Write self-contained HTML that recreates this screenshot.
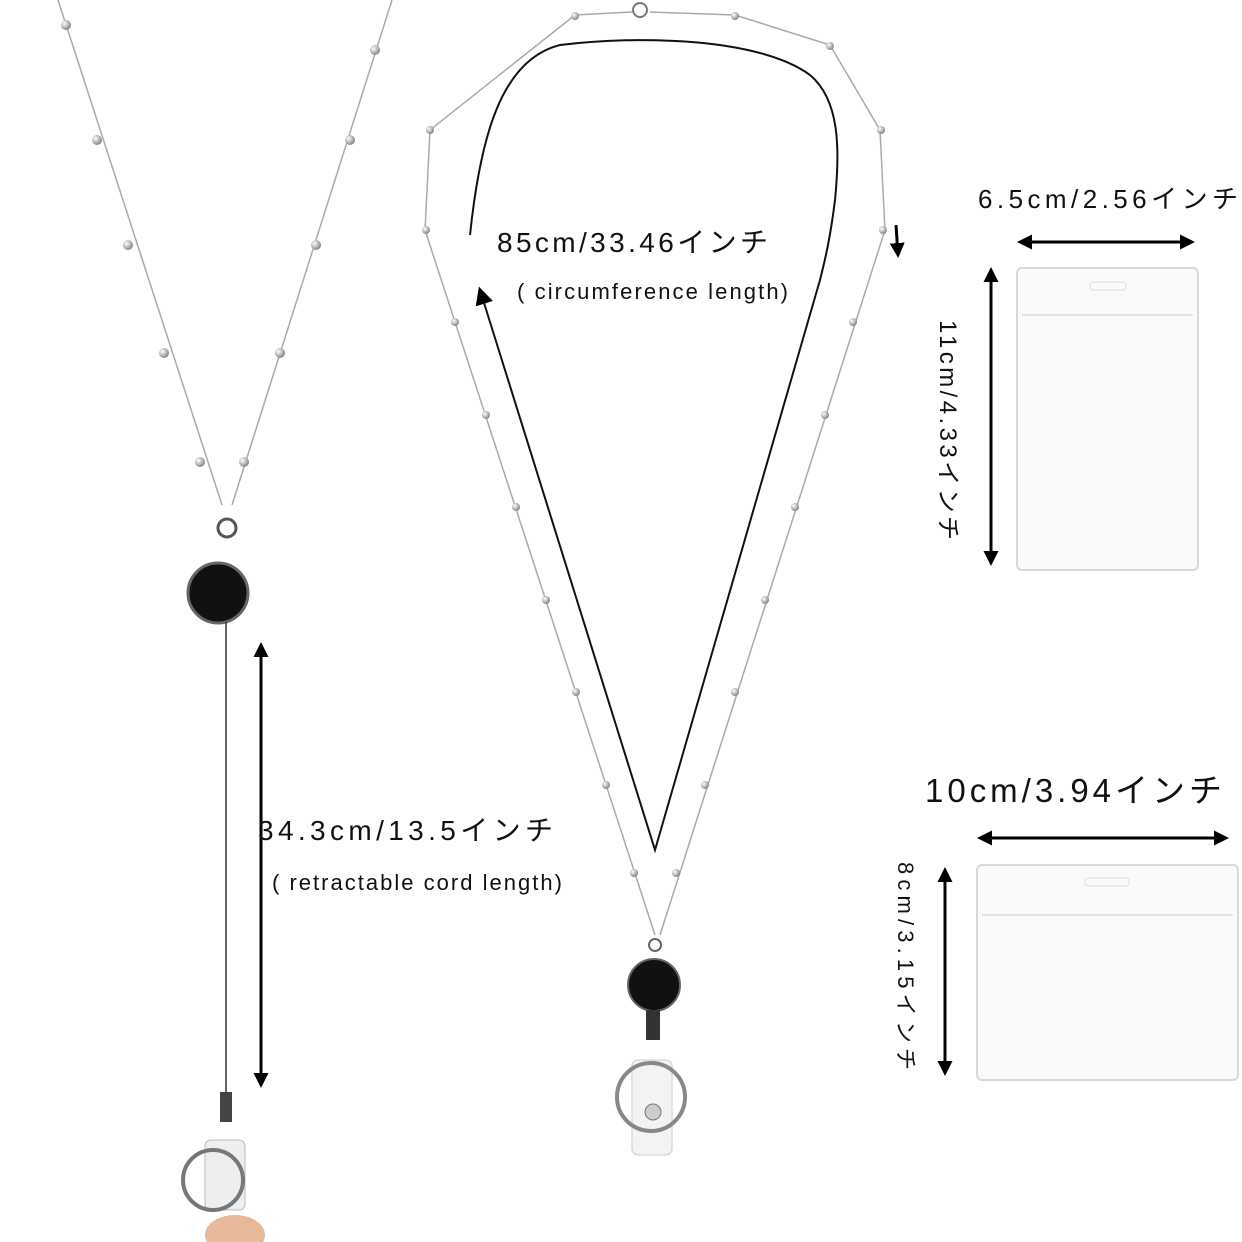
<!DOCTYPE html>
<html><head><meta charset="utf-8"><style>
html,body{margin:0;padding:0;background:#fff;width:1242px;height:1242px;overflow:hidden}
svg{display:block}
text{font-family:"Liberation Sans","Noto Sans CJK JP",sans-serif;fill:#111}
</style></head><body>
<svg width="1242" height="1242" viewBox="0 0 1242 1242" xmlns="http://www.w3.org/2000/svg">
<defs>
<marker id="ah" viewBox="0 0 10 10" refX="8" refY="5" markerWidth="5" markerHeight="5" orient="auto-start-reverse"><path d="M0,0 L10,5 L0,10 z" fill="#000"/></marker>
<marker id="ah2" viewBox="0 0 10 10" refX="8" refY="5" markerWidth="9" markerHeight="9" orient="auto-start-reverse"><path d="M0,0 L10,5 L0,10 z" fill="#000"/></marker>
<radialGradient id="bead" cx="35%" cy="35%" r="65%"><stop offset="0" stop-color="#fff"/><stop offset="1" stop-color="#888"/></radialGradient>
</defs>

<!-- LEFT LANYARD -->
<g stroke="#aaa" stroke-width="1.5" fill="none">
<line x1="58" y1="0" x2="222" y2="505"/>
<line x1="392" y1="0" x2="232" y2="505"/>
</g>
<g fill="url(#bead)">
<circle cx="66" cy="25" r="5"/><circle cx="97" cy="140" r="5"/><circle cx="128" cy="245" r="5"/><circle cx="164" cy="353" r="5"/><circle cx="200" cy="462" r="5"/>
<circle cx="375" cy="50" r="5"/><circle cx="350" cy="140" r="5"/><circle cx="316" cy="245" r="5"/><circle cx="280" cy="353" r="5"/><circle cx="244" cy="462" r="5"/>
</g>
<circle cx="227" cy="528" r="9" fill="none" stroke="#555" stroke-width="3"/>
<circle cx="218" cy="593" r="30" fill="#111" stroke="#666" stroke-width="3"/>
<line x1="226" y1="622" x2="226" y2="1095" stroke="#333" stroke-width="1.5"/>
<rect x="220" y="1092" width="12" height="30" fill="#444"/>
<rect x="205" y="1140" width="40" height="70" rx="6" fill="#eee" stroke="#bbb"/>
<circle cx="213" cy="1180" r="30" fill="none" stroke="#777" stroke-width="4"/>
<ellipse cx="235" cy="1235" rx="30" ry="20" fill="#e8b89a"/>

<line x1="261" y1="645" x2="261" y2="1085" stroke="#000" stroke-width="3" marker-start="url(#ah)" marker-end="url(#ah)"/>
<text x="258" y="840" font-size="28" textLength="295" lengthAdjust="spacing">34.3cm/13.5インチ</text>
<text x="272" y="890" font-size="22" textLength="290" lengthAdjust="spacing">( retractable cord length)</text>

<!-- MIDDLE NECKLACE -->
<g stroke="#aaa" stroke-width="1.5" fill="none">
<path d="M632,12 L575,15 L430,130 L425,230 L655,935"/>
<path d="M650,12 L735,15 L830,45 L880,130 L885,230 L660,935"/>
</g>
<g fill="url(#bead)">
<circle cx="575" cy="16" r="4"/><circle cx="430" cy="130" r="4"/><circle cx="426" cy="230" r="4"/><circle cx="455" cy="322" r="4"/><circle cx="486" cy="415" r="4"/><circle cx="516" cy="507" r="4"/><circle cx="546" cy="600" r="4"/><circle cx="576" cy="692" r="4"/><circle cx="606" cy="785" r="4"/><circle cx="634" cy="873" r="4"/>
<circle cx="735" cy="16" r="4"/><circle cx="830" cy="46" r="4"/><circle cx="881" cy="130" r="4"/><circle cx="883" cy="230" r="4"/><circle cx="853" cy="322" r="4"/><circle cx="825" cy="415" r="4"/><circle cx="795" cy="507" r="4"/><circle cx="765" cy="600" r="4"/><circle cx="735" cy="692" r="4"/><circle cx="705" cy="785" r="4"/><circle cx="676" cy="873" r="4"/>
</g>
<circle cx="640" cy="10" r="7" fill="none" stroke="#777" stroke-width="2"/>
<circle cx="655" cy="945" r="6" fill="none" stroke="#666" stroke-width="2"/>
<circle cx="654" cy="985" r="26" fill="#111" stroke="#666" stroke-width="2"/>
<rect x="646" y="1010" width="14" height="30" fill="#333"/>
<rect x="632" y="1060" width="40" height="95" rx="6" fill="#f3f3f3" stroke="#ccc"/>
<circle cx="651" cy="1097" r="34" fill="none" stroke="#888" stroke-width="4"/>
<circle cx="653" cy="1112" r="8" fill="#ccc" stroke="#777"/>

<path d="M470,235 C480,140 500,60 560,45 C640,35 760,38 810,75 C840,100 840,150 835,200 C830,240 825,260 820,280 L655,850 L480,290" fill="none" stroke="#111" stroke-width="2" marker-end="url(#ah2)"/>
<path d="M896,225 L898,255" stroke="#000" stroke-width="3" marker-end="url(#ah)"/>
<text x="497" y="252" font-size="28" textLength="271" lengthAdjust="spacing">85cm/33.46インチ</text>
<text x="517" y="299" font-size="22" textLength="271" lengthAdjust="spacing">( circumference length)</text>

<!-- CARD 1 -->
<text x="978" y="208" font-size="26" textLength="260" lengthAdjust="spacing">6.5cm/2.56インチ</text>
<line x1="1020" y1="242" x2="1192" y2="242" stroke="#000" stroke-width="3" marker-start="url(#ah)" marker-end="url(#ah)"/>
<rect x="1017" y="268" width="181" height="302" rx="5" fill="#fafafa" stroke="#d8d8d8" stroke-width="2"/>
<line x1="1022" y1="315" x2="1193" y2="315" stroke="#e3e3e3" stroke-width="2"/>
<rect x="1090" y="282" width="36" height="8" rx="3" fill="none" stroke="#ddd"/>
<line x1="991" y1="270" x2="991" y2="563" stroke="#000" stroke-width="3" marker-start="url(#ah)" marker-end="url(#ah)"/>
<text transform="translate(940,320) rotate(90)" font-size="24" textLength="220" lengthAdjust="spacing">11cm/4.33インチ</text>

<!-- CARD 2 -->
<text x="925" y="802" font-size="33" textLength="297" lengthAdjust="spacing">10cm/3.94インチ</text>
<line x1="980" y1="838" x2="1226" y2="838" stroke="#000" stroke-width="3" marker-start="url(#ah)" marker-end="url(#ah)"/>
<rect x="977" y="865" width="261" height="215" rx="5" fill="#fafafa" stroke="#d8d8d8" stroke-width="2"/>
<line x1="982" y1="915" x2="1233" y2="915" stroke="#e3e3e3" stroke-width="2"/>
<rect x="1085" y="878" width="44" height="8" rx="3" fill="none" stroke="#ddd"/>
<line x1="945" y1="870" x2="945" y2="1073" stroke="#000" stroke-width="3" marker-start="url(#ah)" marker-end="url(#ah)"/>
<text transform="translate(898,862) rotate(90)" font-size="22" textLength="208" lengthAdjust="spacing">8cm/3.15インチ</text>
</svg>
</body></html>
